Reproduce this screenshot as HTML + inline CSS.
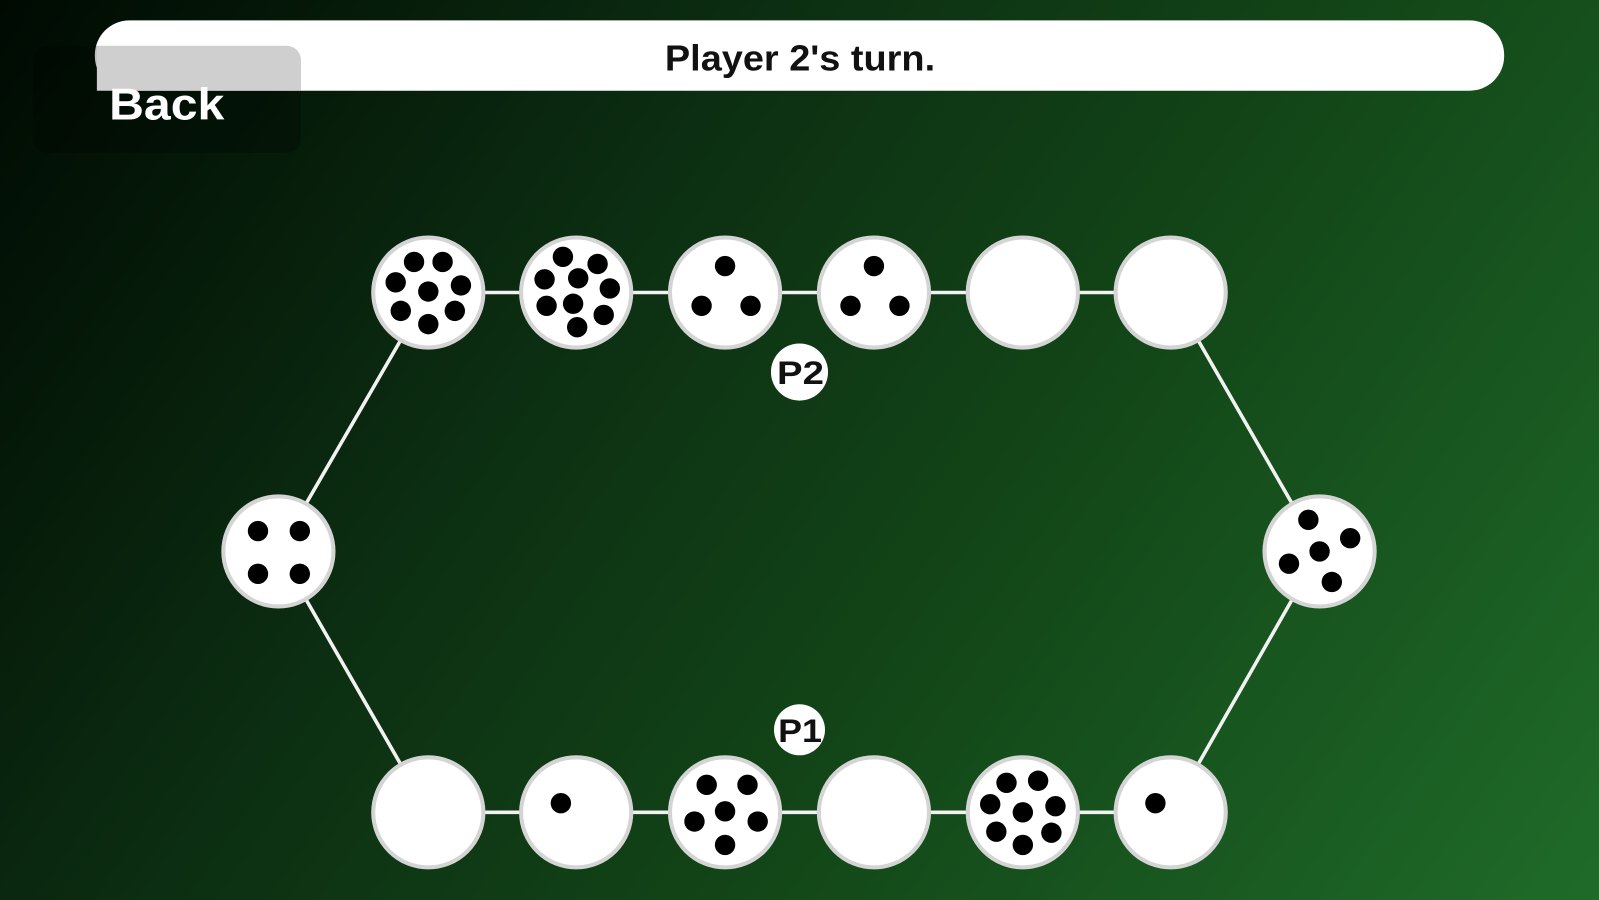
<!DOCTYPE html>
<html><head><meta charset="utf-8"><style>
html,body{margin:0;padding:0;width:1599px;height:900px;overflow:hidden}
body{background:linear-gradient(125deg,#000a02 0%,#0c2e12 35%,#124417 60%,#1f6b29 100%);font-family:"Liberation Sans",sans-serif}
svg{position:absolute;left:0;top:0}
</style></head><body>
<svg width="1599" height="900" viewBox="0 0 1568 883" preserveAspectRatio="none">
<rect x="93" y="20" width="1382" height="69" rx="34" fill="#fff"/>
<rect x="32" y="45" width="263" height="105" rx="14" fill="rgba(0,0,0,0.25)"/>
<path d="M95,45 H281 a14,14 0 0 1 14,14 V89 H95 Z" fill="#cfcfcf"/>
<text x="652" y="69" textLength="265" lengthAdjust="spacingAndGlyphs" font-family="Liberation Sans" font-weight="bold" font-size="35" fill="#111">Player 2's turn.</text>
<text x="107" y="117" textLength="113" lengthAdjust="spacingAndGlyphs" font-family="Liberation Sans" font-weight="bold" font-size="44" fill="#fff">Back</text>
<g stroke="#f2f2f2" stroke-width="3.5" fill="none">
<line x1="420" y1="287" x2="1148" y2="287"/>
<line x1="420" y1="797" x2="1148" y2="797"/>
<polyline points="420,287 273,541 420,797"/>
<polyline points="1148,287 1294,541 1148,797"/>
</g>
<g fill="#fff" stroke="#d4d4d4" stroke-width="4">
<circle cx="420" cy="287" r="54"/><circle cx="565" cy="287" r="54"/><circle cx="711" cy="287" r="54"/><circle cx="857" cy="287" r="54"/><circle cx="1003" cy="287" r="54"/><circle cx="1148" cy="287" r="54"/>
<circle cx="420" cy="797" r="54"/><circle cx="565" cy="797" r="54"/><circle cx="711" cy="797" r="54"/><circle cx="857" cy="797" r="54"/><circle cx="1003" cy="797" r="54"/><circle cx="1148" cy="797" r="54"/>
<circle cx="273" cy="541" r="54"/><circle cx="1294" cy="541" r="54"/>
</g>
<g fill="#000">
<circle cx="406" cy="257" r="10"/><circle cx="434" cy="257" r="10"/><circle cx="388" cy="277" r="10"/><circle cx="420" cy="286" r="10"/><circle cx="452" cy="280" r="10"/><circle cx="393" cy="305" r="10"/><circle cx="446" cy="305" r="10"/><circle cx="420" cy="318" r="10"/>
<circle cx="552" cy="252" r="10"/><circle cx="586" cy="259" r="10"/><circle cx="534" cy="274" r="10"/><circle cx="567" cy="273" r="10"/><circle cx="598" cy="283" r="10"/><circle cx="536" cy="300" r="10"/><circle cx="562" cy="298" r="10"/><circle cx="592" cy="309" r="10"/><circle cx="566" cy="321" r="10"/>
<circle cx="711" cy="261" r="10"/><circle cx="688" cy="300" r="10"/><circle cx="736" cy="300" r="10"/>
<circle cx="857" cy="261" r="10"/><circle cx="834" cy="300" r="10"/><circle cx="882" cy="300" r="10"/>
<circle cx="253" cy="521" r="10"/><circle cx="294" cy="521" r="10"/><circle cx="253" cy="563" r="10"/><circle cx="294" cy="563" r="10"/>
<circle cx="1283" cy="510" r="10"/><circle cx="1324" cy="528" r="10"/><circle cx="1294" cy="541" r="10"/><circle cx="1264" cy="553" r="10"/><circle cx="1306" cy="571" r="10"/>
<circle cx="550" cy="788" r="10"/>
<circle cx="693" cy="770" r="10"/><circle cx="733" cy="770" r="10"/><circle cx="681" cy="806" r="10"/><circle cx="711" cy="796" r="10"/><circle cx="743" cy="806" r="10"/><circle cx="711" cy="829" r="10"/>
<circle cx="987" cy="768" r="10"/><circle cx="1018" cy="766" r="10"/><circle cx="971" cy="789" r="10"/><circle cx="1003" cy="797" r="10"/><circle cx="1035" cy="791" r="10"/><circle cx="977" cy="816" r="10"/><circle cx="1031" cy="817" r="10"/><circle cx="1003" cy="829" r="10"/>
<circle cx="1133" cy="788" r="10"/>
</g>
<circle cx="784" cy="365" r="28" fill="#fff"/>
<text x="762" y="377" textLength="46" lengthAdjust="spacingAndGlyphs" font-family="Liberation Sans" font-weight="bold" font-size="32" fill="#111">P2</text>
<circle cx="784" cy="716" r="25" fill="#fff"/>
<text x="763" y="728" textLength="43" lengthAdjust="spacingAndGlyphs" font-family="Liberation Sans" font-weight="bold" font-size="32" fill="#111">P1</text>
</svg>
</body></html>
